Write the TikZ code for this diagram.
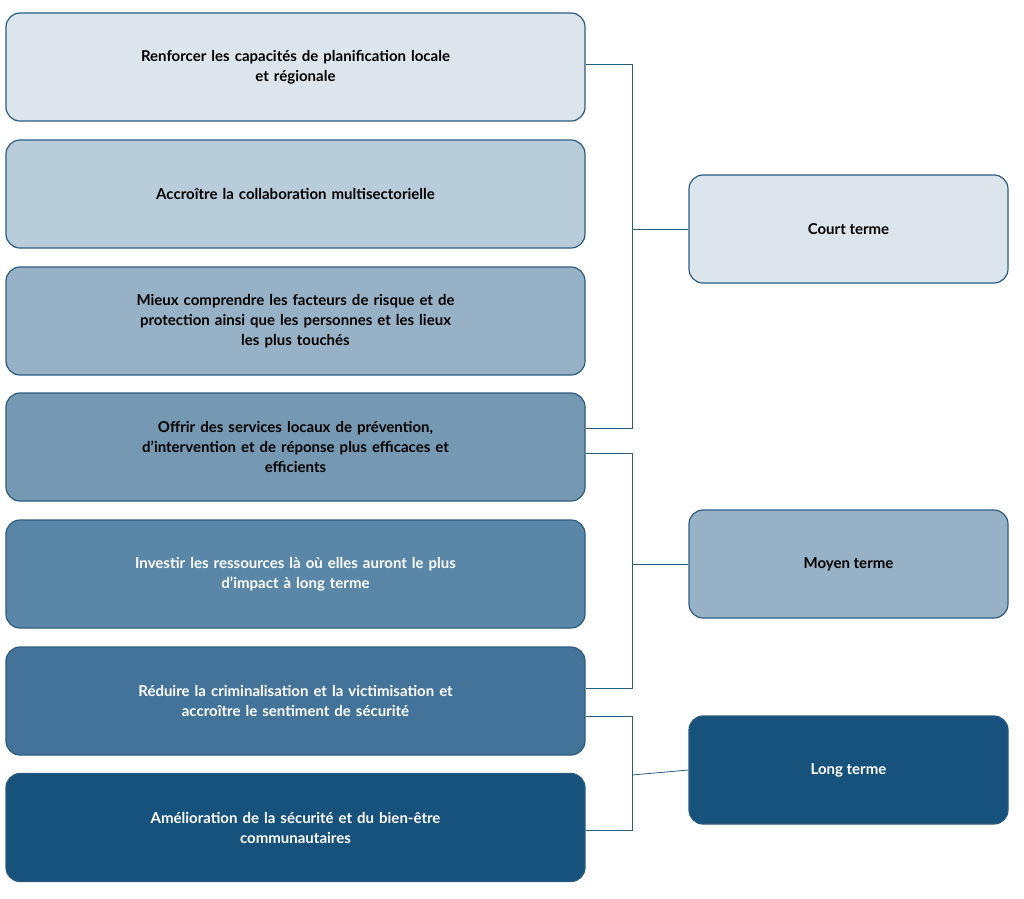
\documentclass[tikz,border=0pt]{standalone}
\usepackage{fontspec}
\setmainfont{Lato}
\begin{document}
\begin{tikzpicture}[x=1pt,y=-1pt,
  box/.style={draw=c0,line width=1.2pt,rounded corners=14pt,align=center,font=\bfseries\fontsize{15}{20}\selectfont},
  lbox/.style={box,minimum width=579pt,minimum height=108pt,text width=500pt},
  rbox/.style={box,minimum width=319pt,minimum height=108pt},
  conn/.style={draw=c0,line width=0.8pt}]
\definecolor{c0}{HTML}{2B5C80}
\definecolor{f1}{HTML}{DDE5EC}
\definecolor{f2}{HTML}{B9CCD9}
\definecolor{f3}{HTML}{97B2C6}
\definecolor{f4}{HTML}{7699B3}
\definecolor{f5}{HTML}{5A87A7}
\definecolor{f6}{HTML}{44739A}
\definecolor{f7}{HTML}{17527D}
\useasboundingbox (0,0) rectangle (1024,898);
\node[lbox,fill=f1] (b1) at (295.5,67) {Renforcer les capacités de planification locale\\et régionale};
\node[lbox,fill=f2] (b2) at (295.5,194) {Accroître la collaboration multisectorielle};
\node[lbox,fill=f3] (b3) at (295.5,321) {Mieux comprendre les facteurs de risque et de\\protection ainsi que les personnes et les lieux\\les plus touchés};
\node[lbox,fill=f4] (b4) at (295.5,447) {Offrir des services locaux de prévention,\\d’intervention et de réponse plus efficaces et\\efficients};
\node[lbox,fill=f5,text=white] (b5) at (295.5,574) {Investir les ressources là où elles auront le plus\\d’impact à long terme};
\node[lbox,fill=f6,text=white] (b6) at (295.5,701) {Réduire la criminalisation et la victimisation et\\accroître le sentiment de sécurité};
\node[lbox,fill=f7,text=white] (b7) at (295.5,827.5) {Amélioration de la sécurité et du bien-être\\communautaires};
\node[rbox,fill=f1] (r1) at (848.5,229) {Court terme};
\node[rbox,fill=f3] (r2) at (848.5,564) {Moyen terme};
\node[rbox,fill=f7,text=white] (r3) at (848.5,770) {Long terme};
\coordinate (a1) at (632,64); \coordinate (a2) at (632,428);
\draw[conn] (b1.east |- a1) -- (a1) -- (a2) -- (b4.east |- a2);
\draw[conn] (r1.west) -- (632,229);
\coordinate (m1) at (632,453); \coordinate (m2) at (632,688);
\draw[conn] (b4.east |- m1) -- (m1) -- (m2) -- (b6.east |- m2);
\draw[conn] (r2.west) -- (632,564);
\coordinate (l1) at (632,716); \coordinate (l2) at (632,830);
\draw[conn] (b6.east |- l1) -- (l1) -- (l2) -- (b7.east |- l2);
\draw[conn] (r3.west) -- (632,775);
\end{tikzpicture}
\end{document}
